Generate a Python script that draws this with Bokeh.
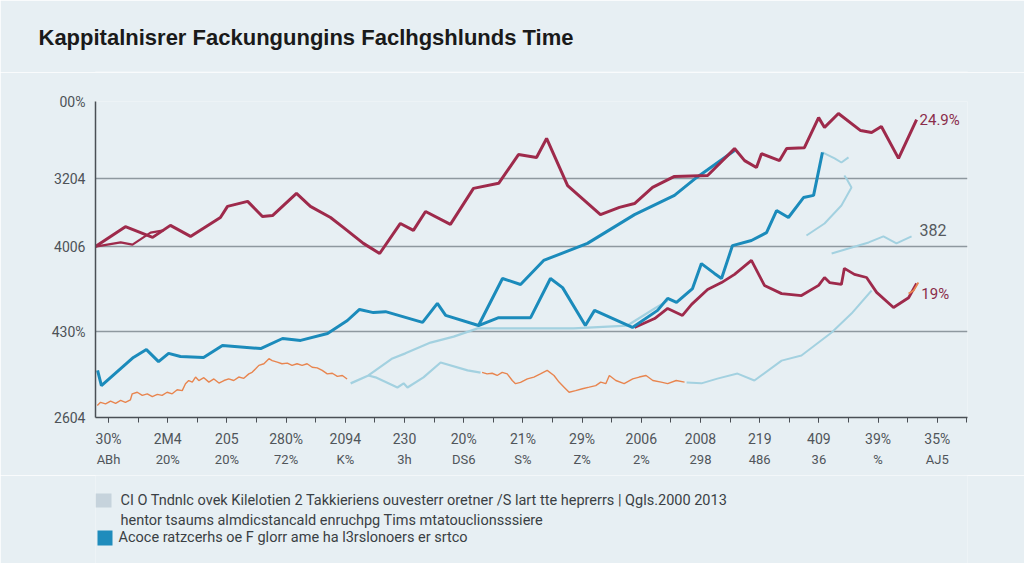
from bokeh.plotting import figure
from bokeh.layouts import column
from bokeh.models import (Range1d, FixedTicker, SingleIntervalTicker, LinearAxis, Label)
from bokeh.core.properties import value
from bokeh.embed import file_html
from bokeh.resources import INLINE

# ---------------- data ----------------
title_text = "Kappitalnisrer Fackungungins Faclhgshlunds Time"

y_ticks = [0, 27.2, 54.1, 75.6, 100]
y_tick_labels = ["2604", "430%", "4006", "3204", "00%"]

x_label_pos = [0, 2, 4, 6, 8, 10, 12, 14, 16, 18, 20, 22, 24, 26, 28]
x_labels_row1 = ["30%", "2M4", "205", "280%", "2094", "230", "20%", "21%",
                 "29%", "2006", "2008", "219", "409", "39%", "35%"]
x_labels_row2 = ["ABh", "20%", "20%", "72%", "K%", "3h", "DS6", "S%",
                 "Z%", "2%", "298", "486", "36", "%", "AJ5"]

red_a_x = [-0.44, 0.57, 1.49, 2.09, 2.77, 3.78, 4.02, 4.70, 5.20, 5.54, 6.35, 6.82, 7.50,
           7.94, 8.61, 9.16, 9.86, 10.30, 10.71, 11.55, 12.33, 13.18, 13.85, 14.46, 14.80,
           15.51, 16.62, 17.26, 17.77, 18.38, 19.12, 20.24, 21.15, 21.49, 21.89, 22.06,
           22.67, 22.91, 23.51, 23.99, 24.19, 24.66, 25.41, 25.78, 26.11, 26.69, 27.30]
red_a_y = [54.1, 60.4, 57.0, 60.8, 57.3, 63.3, 66.8, 68.4, 63.6, 63.9, 70.9, 66.8, 63.3,
           60.1, 55.1, 51.9, 61.4, 59.2, 65.2, 61.1, 72.5, 74.1, 83.2, 82.3, 88.3,
           73.4, 64.2, 66.5, 67.7, 72.8, 76.3, 76.6, 85.1, 81.3, 79.1, 83.5,
           81.3, 85.1, 85.4, 94.9, 91.8, 96.2, 90.8, 90.2, 92.1, 82.0, 94.3]

red_c_x = [-0.44, 0.41, 0.81, 1.42, 1.86]
red_c_y = [54.1, 55.4, 54.7, 58.5, 59.2]

red_b_x = [17.77, 18.45, 18.89, 19.39, 19.70, 20.24, 20.71, 21.15, 21.72, 22.16, 22.74,
           23.41, 23.99, 24.19, 24.36, 24.76, 24.86, 25.20, 25.61, 25.95, 26.52, 27.03, 27.30]
red_b_y = [28.5, 31.3, 34.5, 32.3, 35.8, 40.5, 42.7, 45.3, 49.7, 41.8, 39.2,
           38.6, 41.8, 44.3, 42.7, 42.1, 47.2, 45.3, 44.3, 39.6, 34.8, 37.9, 42.4]

blue_a_x = [-0.37, -0.24, 0.84, 1.28, 1.69, 2.03, 2.43, 3.21, 3.85, 5.14, 5.88, 6.49, 7.40,
            8.07, 8.48, 8.95, 9.36, 10.61, 11.11, 11.39, 12.50, 13.18, 14.26, 14.93, 15.34,
            16.11, 16.42, 17.70, 18.55, 18.89, 19.19, 19.73, 20.03, 20.47, 20.71, 21.08,
            21.72, 22.23, 22.57, 22.97, 23.48, 23.82, 24.12]
blue_a_y = [14.9, 10.1, 19.0, 21.5, 17.7, 20.3, 19.3, 19.0, 22.8, 21.8, 25.0, 24.4, 26.6,
            30.7, 34.2, 33.2, 33.5, 30.1, 36.1, 32.3, 29.1, 31.6, 31.6, 44.0, 41.1,
            29.1, 33.9, 28.5, 33.9, 37.7, 36.4, 40.8, 48.7, 45.6, 44.0, 54.4,
            56.0, 58.5, 65.5, 63.3, 69.6, 70.3, 83.9]

blue_b_x = [12.50, 13.31, 13.92, 14.70, 16.18, 17.77, 19.12, 19.86, 21.15]
blue_b_y = [29.1, 44.0, 42.1, 49.7, 55.1, 64.2, 70.3, 75.9, 84.5]

light_1_x = [8.18, 8.78, 9.59, 10.03, 10.88, 11.66, 12.47, 15.71, 17.53, 18.45, 18.89]
light_1_y = [10.8, 13.3, 18.7, 20.3, 23.7, 25.6, 28.2, 28.2, 29.1, 34.5, 37.0]
light_2_x = [8.78, 9.02, 9.76, 9.97, 10.10, 10.64, 11.22, 12.13, 12.57]
light_2_y = [13.3, 12.7, 9.5, 10.8, 9.5, 12.7, 17.4, 14.9, 14.2]
light_3_x = [19.53, 20.03, 20.57, 21.25, 21.82, 22.74, 23.41, 24.43, 25.10, 25.78]
light_3_y = [11.1, 10.8, 12.3, 13.9, 11.7, 18.0, 19.6, 26.9, 32.9, 40.2]
light_4_x = [24.12, 24.53, 24.76, 25.00]
light_4_y = [83.9, 82.0, 80.7, 82.3]
light_5_x = [23.58, 24.19, 24.76, 25.10, 24.93, 24.86]
light_5_y = [57.6, 61.4, 67.1, 72.8, 75.6, 76.6]
light_6_x = [24.43, 25.68, 26.18, 26.62, 27.13]
light_6_y = [51.9, 55.4, 57.3, 55.1, 57.3]

orange_1_x = [-0.38, -0.27, -0.10, 0.07, 0.24, 0.41, 0.57, 0.74, 0.80, 0.97, 1.14, 1.31,
              1.48, 1.65, 1.81, 1.98, 2.15, 2.32, 2.49, 2.60, 2.71, 2.83, 2.94, 3.05,
              3.22, 3.39, 3.56, 3.73, 3.90, 4.06, 4.23, 4.40, 4.57, 4.74, 4.85, 4.97,
              5.08, 5.25, 5.42, 5.53, 5.70, 5.86, 6.04, 6.20, 6.37, 6.54, 6.71, 6.88,
              7.05, 7.22, 7.39, 7.56, 7.73, 7.90, 8.06]
orange_1_y = [3.8, 4.8, 4.3, 5.2, 4.5, 5.4, 4.8, 5.6, 7.5, 8.0, 7.0, 7.5,
              6.6, 7.3, 7.0, 8.0, 7.5, 8.8, 8.5, 10.7, 11.7, 11.2, 12.8, 11.7,
              12.6, 11.2, 12.2, 10.9, 11.7, 12.2, 11.7, 12.8, 12.4, 13.8, 14.3, 15.4,
              16.5, 17.0, 18.6, 18.0, 17.5, 17.0, 17.2, 16.5, 17.0, 16.5, 17.0, 15.9,
              15.7, 14.9, 13.8, 14.0, 13.0, 13.3, 12.2]
orange_2_x = [12.62, 12.79, 12.96, 13.13, 13.30, 13.47, 13.64, 13.75, 13.92, 14.15, 14.37,
              14.59, 14.82, 15.05, 15.22, 15.39, 15.56, 15.78, 16.01, 16.24, 16.46, 16.63,
              16.80, 16.92, 17.14, 17.42, 17.71, 17.93, 18.16, 18.39, 18.67, 18.89, 19.18, 19.46]
orange_2_y = [14.3, 13.8, 14.0, 13.3, 14.3, 13.8, 11.7, 10.7, 11.1, 12.2, 12.8,
              13.8, 14.9, 13.3, 11.2, 9.6, 8.0, 8.5, 9.1, 9.6, 10.1, 11.2,
              10.7, 13.3, 11.7, 10.7, 12.2, 12.8, 13.3, 11.7, 11.2, 10.7, 11.7, 11.2]
orange_3_x = [27.03, 27.20, 27.36]
orange_3_y = [39.2, 40.2, 42.7]

end_labels = ["24.9%", "382", "19%"]
end_label_x = [27.40, 27.40, 27.46]
end_label_y = [94.3, 59.2, 39.2]

legend_lines = [
    "CI O Tndnlc ovek Kilelotien 2 Takkieriens ouvesterr oretner  /S lart tte heprerrs  | Qgls.2000 2013",
    "hentor tsaums almdicstancald enruchpg Tims mtatouclionsssiere",
    "Acoce ratzcerhs oe F glorr ame ha l3rslonoers er srtco",
]
legend_swatch_colors = ["#c6d3dc", "#1f8cbc"]

# ---------------- styling ----------------
BG = "#e7eff3"
RED = "#9e2a4b"
BLUE = "#1b8bbb"
LIGHT = "#a3d1e0"
ORANGE = "#e8854f"
FONT = "Roboto"
W = 1024

# ---- title strip ----
ft = figure(width=W, height=72, output_backend="svg", toolbar_location=None,
            title=title_text, x_axis_location=None, y_axis_location=None,
            x_range=Range1d(0, 1), y_range=Range1d(0, 1),
            min_border_left=95, min_border_right=57, min_border_top=0, min_border_bottom=0,
            background_fill_color=BG, border_fill_color=BG, outline_line_color=None)
ft.grid.visible = False
ft.title.align = "left"
ft.title.offset = -57
ft.title.standoff = 44
ft.title.text_font = "Liberation Sans"
ft.title.text_font_style = "bold"
ft.title.text_font_size = "22px"
ft.title.text_color = "#1a1a1a"

# ---- main chart ----
p = figure(width=W, height=403, output_backend="svg", toolbar_location=None, title=None,
           x_range=Range1d(-0.44, 29.02), y_range=Range1d(0, 100),
           min_border_left=95, min_border_right=57, min_border_top=29, min_border_bottom=58,
           background_fill_color=BG, border_fill_color=BG, outline_line_color=None)

p.yaxis.ticker = FixedTicker(ticks=y_ticks)
p.yaxis.major_label_overrides = {t: l for t, l in zip(y_ticks, y_tick_labels)}
p.yaxis.major_tick_out = 0
p.yaxis.major_tick_in = 0
p.yaxis.minor_tick_out = 0
p.yaxis.minor_tick_in = 0
p.yaxis.axis_line_color = "#4a4f55"
p.yaxis.axis_line_width = 1.5
p.yaxis.major_label_standoff = 10
p.yaxis.major_label_text_font = FONT
p.yaxis.major_label_text_font_size = "14px"
p.yaxis.major_label_text_color = "#4d5257"

p.ygrid.ticker = FixedTicker(ticks=y_ticks)
p.ygrid.grid_line_color = "#8e989f"
p.ygrid.grid_line_width = 1.5
p.xgrid.grid_line_color = None

xt = SingleIntervalTicker(interval=2, num_minor_ticks=2)
ax1 = p.xaxis[0]
ax1.ticker = xt
ax1.major_label_overrides = {t: l for t, l in zip(x_label_pos, x_labels_row1)}
ax1.axis_line_color = "#4a4f55"
ax1.axis_line_width = 1.5
ax1.major_tick_out = 5
ax1.major_tick_in = 0
ax1.minor_tick_out = 5
ax1.minor_tick_in = 0
ax1.major_tick_line_color = "#4a4f55"
ax1.minor_tick_line_color = "#4a4f55"
ax1.major_label_standoff = 8
ax1.major_label_text_font = FONT
ax1.major_label_text_font_size = "14px"
ax1.major_label_text_color = "#50555a"

ax2 = LinearAxis(ticker=xt)
ax2.major_label_overrides = {t: l for t, l in zip(x_label_pos, x_labels_row2)}
ax2.axis_line_alpha = 0
ax2.major_tick_line_alpha = 0
ax2.minor_tick_line_alpha = 0
ax2.major_tick_out = 0
ax2.minor_tick_out = 0
ax2.major_label_standoff = 2
ax2.major_label_text_font = FONT
ax2.major_label_text_font_size = "13px"
ax2.major_label_text_color = "#50555a"
p.add_layout(ax2, "below")

p.line(light_1_x, light_1_y, line_color=LIGHT, line_width=2.2)
p.line(light_2_x, light_2_y, line_color=LIGHT, line_width=2.2)
p.line(light_3_x, light_3_y, line_color=LIGHT, line_width=2)
p.line(light_4_x, light_4_y, line_color=LIGHT, line_width=2)
p.line(light_5_x, light_5_y, line_color=LIGHT, line_width=2)
p.line(light_6_x, light_6_y, line_color=LIGHT, line_width=2)
p.line(orange_1_x, orange_1_y, line_color=ORANGE, line_width=1.4)
p.line(orange_2_x, orange_2_y, line_color=ORANGE, line_width=1.4)
p.line(red_c_x, red_c_y, line_color=RED, line_width=2.2)
p.line(red_b_x, red_b_y, line_color=RED, line_width=2.8)
p.line(blue_a_x, blue_a_y, line_color=BLUE, line_width=3)
p.line(blue_b_x, blue_b_y, line_color=BLUE, line_width=3)
p.line(red_a_x, red_a_y, line_color=RED, line_width=3)
p.line(orange_3_x, orange_3_y, line_color=ORANGE, line_width=1.8)

end_colors = ["#8a2c4a", "#555a60", "#8a2c4a"]
end_sizes = ["15px", "16px", "15px"]
for t, x, y, c, s in zip(end_labels, end_label_x, end_label_y, end_colors, end_sizes):
    p.add_layout(Label(x=x, y=y, text=t, text_color=c, text_font=FONT,
                       text_font_size=s, text_baseline="middle", text_align="left"))

# ---- legend strip (its plot area lines up with the chart's) ----
fl = figure(width=W, height=88, output_backend="svg", toolbar_location=None, title=None,
            x_axis_location=None, y_axis_location=None,
            x_range=Range1d(0, 872), y_range=Range1d(88, 0),
            min_border_left=95, min_border_right=57, min_border_top=0, min_border_bottom=0,
            background_fill_color=BG, border_fill_color=BG, outline_line_color=None)
fl.grid.visible = False
fl.quad(left=[0, 2], right=[16, 17], top=[18, 55], bottom=[32, 70],
        fill_color=legend_swatch_colors, line_color=None)
fl.text(x=[25, 25, 23], y=[25, 45, 62], text=legend_lines, text_font=value(FONT),
        text_font_size="14.5px", text_color="#3a3f44",
        text_baseline="middle", text_align="left")

layout = column(ft, p, fl, spacing=0)
html = file_html(layout, INLINE)
html = html.replace("<body>", '<body style="background:%s;margin:0;">' % BG, 1)
open("out.html", "w").write(html)
